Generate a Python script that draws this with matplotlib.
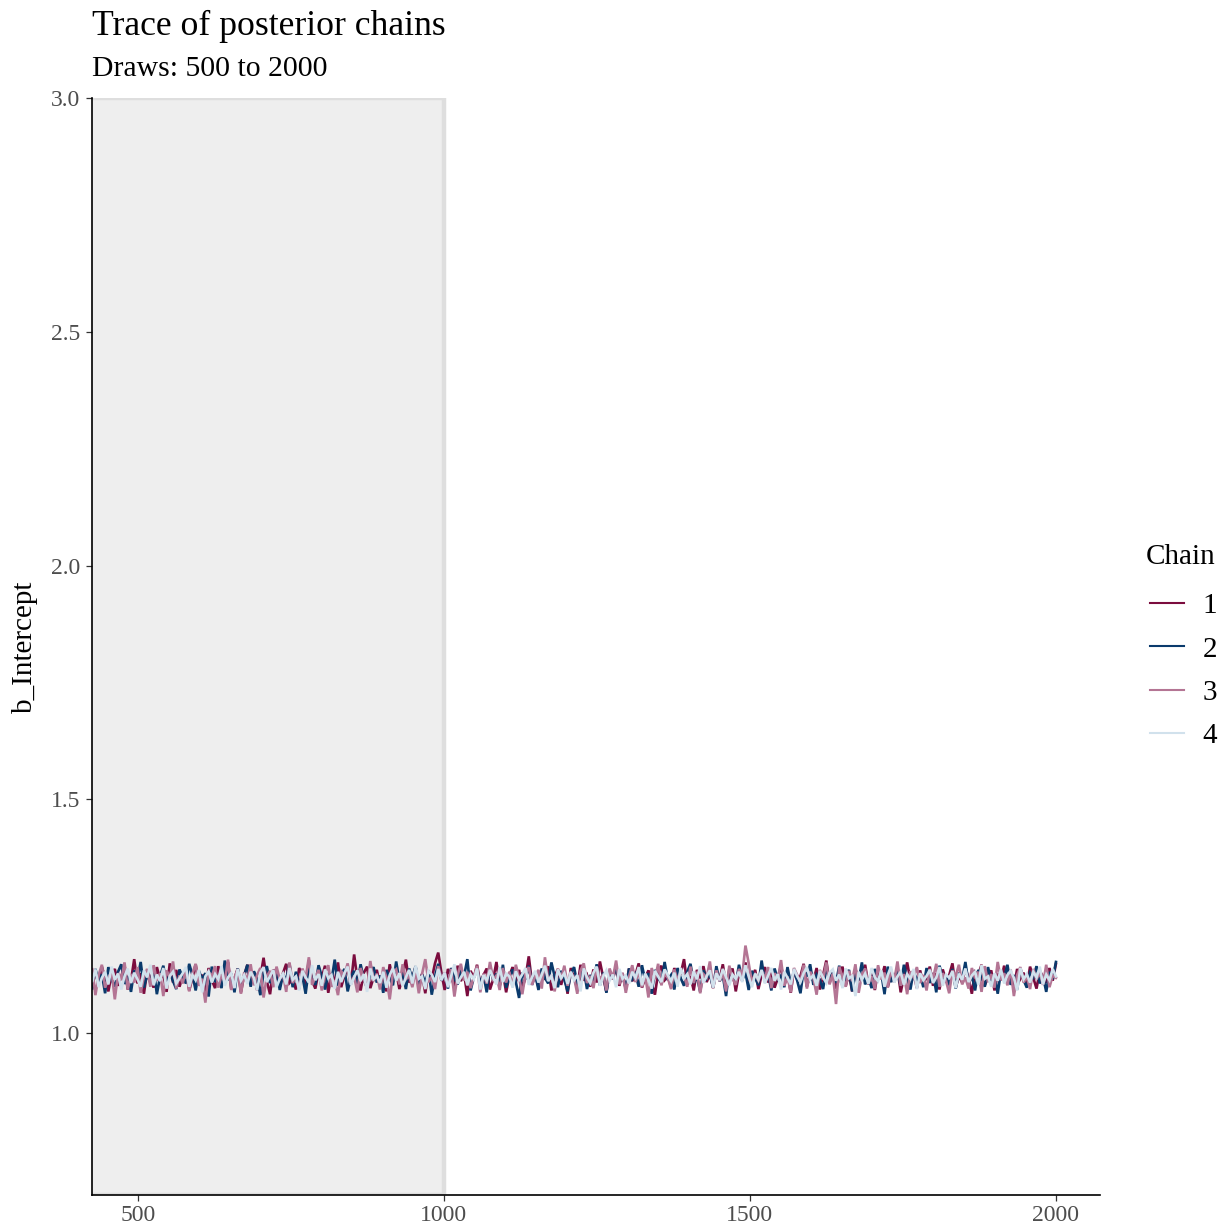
import numpy as np
import matplotlib
matplotlib.use("Agg")
import matplotlib.pyplot as plt
from matplotlib.lines import Line2D

plt.rcParams['font.family'] = ['Liberation Serif', 'DejaVu Serif']

# ---------------- data ----------------
chains = ["1", "2", "3", "4"]
first_draw = 420
last_draw = 2000
warmup_end = 1000
x_ticks = [500, 1000, 1500, 2000]
y_ticks = [1.0, 1.5, 2.0, 2.5, 3.0]

chain1 = [
    1.152, 1.098, 1.131, 1.104, 1.142, 1.117, 1.089, 1.126, 1.137, 1.101,
    1.121, 1.145, 1.093, 1.112, 1.158, 1.106, 1.128, 1.084, 1.133, 1.119,
    1.097, 1.141, 1.115, 1.126, 1.088, 1.149, 1.108, 1.135, 1.099, 1.122,
    1.134, 1.091, 1.118, 1.147, 1.103, 1.125, 1.079, 1.139, 1.113, 1.096,
    1.143, 1.109, 1.127, 1.152, 1.094, 1.116, 1.138, 1.087, 1.124, 1.146,
    1.105, 1.131, 1.092, 1.119, 1.161, 1.111, 1.083, 1.136, 1.121, 1.099,
    1.128, 1.148, 1.107, 1.115, 1.093, 1.139, 1.124, 1.101, 1.156, 1.112,
    1.095, 1.132, 1.118, 1.144, 1.086, 1.127, 1.109, 1.151, 1.098, 1.123,
    1.137, 1.104, 1.168, 1.115, 1.091, 1.129, 1.142, 1.096, 1.118, 1.135,
    1.102, 1.125, 1.089, 1.147, 1.113, 1.131, 1.094, 1.122, 1.157, 1.108,
    1.119, 1.141, 1.097, 1.126, 1.085, 1.134, 1.116, 1.149, 1.172, 1.128,
    1.092, 1.137, 1.121, 1.099, 1.144, 1.111, 1.127, 1.079, 1.133, 1.118,
    1.146, 1.105, 1.124, 1.138, 1.093, 1.115, 1.152, 1.101, 1.129, 1.087,
    1.123, 1.141, 1.109, 1.135, 1.096, 1.119, 1.164, 1.107, 1.126, 1.098,
    1.132, 1.114, 1.143, 1.091, 1.121, 1.137, 1.103, 1.128, 1.084, 1.139,
    1.117, 1.095, 1.146, 1.112, 1.124, 1.099, 1.136, 1.108, 1.153, 1.119,
    1.088, 1.131, 1.115, 1.142, 1.101, 1.127, 1.093, 1.138, 1.111, 1.125,
    1.149, 1.097, 1.118, 1.134, 1.106, 1.082, 1.129, 1.144, 1.113, 1.121,
    1.098, 1.139, 1.116, 1.127, 1.158, 1.104, 1.122, 1.091, 1.135, 1.117,
    1.143, 1.109, 1.126, 1.096, 1.131, 1.114, 1.147, 1.102, 1.123, 1.138,
    1.089, 1.128, 1.112, 1.151, 1.106, 1.119, 1.135, 1.094, 1.124, 1.141,
    1.108, 1.132, 1.097, 1.117, 1.145, 1.103, 1.129, 1.086, 1.136, 1.115,
    1.122, 1.148, 1.099, 1.127, 1.111, 1.139, 1.093, 1.124, 1.155, 1.107,
    1.131, 1.095, 1.118, 1.142, 1.101, 1.126, 1.089, 1.137, 1.114, 1.121,
    1.146, 1.104, 1.129, 1.092, 1.133, 1.116, 1.143, 1.098, 1.125, 1.109,
    1.138, 1.087, 1.121, 1.151, 1.112, 1.127, 1.096, 1.134, 1.105, 1.119,
    1.142, 1.101, 1.128, 1.093, 1.136, 1.113, 1.124, 1.149, 1.097, 1.122,
    1.108, 1.139, 1.117, 1.084, 1.131, 1.125, 1.146, 1.102, 1.119, 1.134,
    1.091, 1.127, 1.113, 1.144, 1.106, 1.123, 1.098, 1.137, 1.116, 1.129,
    1.101, 1.142, 1.118, 1.095, 1.133, 1.121, 1.107, 1.139, 1.112, 1.148,
]

chain2 = [
    1.118, 1.093, 1.137, 1.109, 1.126, 1.085, 1.141, 1.114, 1.099, 1.131,
    1.147, 1.105, 1.122, 1.088, 1.134, 1.116, 1.152, 1.097, 1.125, 1.108,
    1.139, 1.083, 1.121, 1.144, 1.102, 1.129, 1.111, 1.094, 1.136, 1.119,
    1.106, 1.148, 1.124, 1.091, 1.133, 1.115, 1.128, 1.078, 1.142, 1.109,
    1.121, 1.096, 1.155, 1.113, 1.127, 1.087, 1.138, 1.104, 1.123, 1.146,
    1.099, 1.132, 1.117, 1.081, 1.129, 1.143, 1.107, 1.119, 1.136, 1.092,
    1.125, 1.114, 1.149, 1.098, 1.131, 1.106, 1.122, 1.084, 1.139, 1.116,
    1.103, 1.145, 1.121, 1.093, 1.128, 1.112, 1.157, 1.101, 1.124, 1.137,
    1.089, 1.119, 1.133, 1.105, 1.147, 1.115, 1.096, 1.127, 1.141, 1.108,
    1.123, 1.086, 1.135, 1.118, 1.102, 1.153, 1.111, 1.129, 1.094, 1.138,
    1.117, 1.143, 1.099, 1.126, 1.107, 1.134, 1.082, 1.121, 1.148, 1.112,
    1.128, 1.095, 1.139, 1.116, 1.104, 1.131, 1.122, 1.158, 1.091, 1.119,
    1.135, 1.108, 1.124, 1.087, 1.142, 1.113, 1.127, 1.101, 1.146, 1.097,
    1.121, 1.136, 1.109, 1.075, 1.129, 1.115, 1.144, 1.103, 1.125, 1.092,
    1.138, 1.118, 1.106, 1.151, 1.121, 1.098, 1.133, 1.114, 1.089, 1.127,
    1.141, 1.105, 1.119, 1.136, 1.094, 1.124, 1.111, 1.147, 1.102, 1.129,
    1.086, 1.132, 1.117, 1.143, 1.108, 1.122, 1.096, 1.138, 1.115, 1.126,
    1.099, 1.145, 1.112, 1.128, 1.084, 1.135, 1.119, 1.106, 1.152, 1.113,
    1.124, 1.093, 1.139, 1.117, 1.101, 1.131, 1.148, 1.107, 1.121, 1.088,
    1.134, 1.116, 1.126, 1.097, 1.143, 1.111, 1.123, 1.079, 1.137, 1.119,
    1.105, 1.146, 1.114, 1.129, 1.092, 1.133, 1.118, 1.102, 1.155, 1.109,
    1.127, 1.091, 1.138, 1.115, 1.123, 1.098, 1.141, 1.106, 1.131, 1.112,
    1.085, 1.136, 1.121, 1.147, 1.103, 1.125, 1.114, 1.094, 1.139, 1.117,
    1.129, 1.107, 1.144, 1.099, 1.122, 1.135, 1.089, 1.127, 1.113, 1.151,
    1.104, 1.119, 1.096, 1.137, 1.115, 1.128, 1.083, 1.142, 1.109, 1.124,
    1.131, 1.101, 1.146, 1.118, 1.093, 1.133, 1.112, 1.125, 1.098, 1.139,
    1.107, 1.128, 1.087, 1.144, 1.116, 1.121, 1.102, 1.137, 1.095, 1.129,
    1.114, 1.152, 1.105, 1.123, 1.091, 1.135, 1.118, 1.099, 1.141, 1.111,
    1.126, 1.084, 1.132, 1.117, 1.146, 1.103, 1.124, 1.093, 1.138, 1.113,
    1.097, 1.129, 1.119, 1.143, 1.106, 1.122, 1.088, 1.131, 1.115, 1.152,
]

chain3 = [
    1.103, 1.139, 1.081, 1.124, 1.146, 1.097, 1.117, 1.132, 1.072, 1.128,
    1.114, 1.151, 1.093, 1.126, 1.108, 1.141, 1.086, 1.121, 1.137, 1.099,
    1.145, 1.112, 1.128, 1.079, 1.134, 1.119, 1.153, 1.095, 1.123, 1.106,
    1.138, 1.089, 1.127, 1.148, 1.101, 1.116, 1.065, 1.131, 1.121, 1.143,
    1.097, 1.125, 1.109, 1.157, 1.092, 1.118, 1.136, 1.084, 1.129, 1.113,
    1.147, 1.102, 1.124, 1.139, 1.076, 1.121, 1.133, 1.098, 1.142, 1.115,
    1.126, 1.088, 1.151, 1.107, 1.122, 1.094, 1.138, 1.117, 1.162, 1.103,
    1.119, 1.135, 1.091, 1.128, 1.145, 1.099, 1.113, 1.081, 1.132, 1.124,
    1.149, 1.106, 1.121, 1.087, 1.139, 1.115, 1.096, 1.154, 1.111, 1.127,
    1.093, 1.141, 1.118, 1.072, 1.129, 1.136, 1.104, 1.147, 1.115, 1.122,
    1.098, 1.133, 1.085, 1.126, 1.158, 1.109, 1.121, 1.094, 1.143, 1.117,
    1.129, 1.101, 1.137, 1.078, 1.124, 1.148, 1.112, 1.131, 1.096, 1.119,
    1.144, 1.087, 1.127, 1.106, 1.152, 1.115, 1.123, 1.092, 1.139, 1.108,
    1.131, 1.099, 1.146, 1.118, 1.083, 1.127, 1.141, 1.103, 1.121, 1.135,
    1.095, 1.162, 1.112, 1.124, 1.089, 1.137, 1.116, 1.144, 1.101, 1.128,
    1.119, 1.084, 1.133, 1.149, 1.107, 1.122, 1.096, 1.141, 1.113, 1.126,
    1.091, 1.138, 1.117, 1.155, 1.104, 1.129, 1.086, 1.121, 1.145, 1.109,
    1.132, 1.098, 1.124, 1.076, 1.139, 1.115, 1.148, 1.102, 1.127, 1.118,
    1.094, 1.136, 1.112, 1.133, 1.123, 1.099, 1.142, 1.107, 1.131, 1.085,
    1.126, 1.119, 1.153, 1.097, 1.134, 1.111, 1.128, 1.089, 1.144, 1.116,
    1.103, 1.137, 1.122, 1.187, 1.149, 1.108, 1.125, 1.112, 1.133, 1.117,
    1.141, 1.096, 1.128, 1.113, 1.156, 1.101, 1.121, 1.087, 1.139, 1.124,
    1.109, 1.146, 1.095, 1.131, 1.118, 1.082, 1.135, 1.114, 1.151, 1.104,
    1.127, 1.062, 1.142, 1.119, 1.099, 1.133, 1.111, 1.147, 1.086, 1.124,
    1.138, 1.106, 1.121, 1.094, 1.145, 1.115, 1.129, 1.098, 1.136, 1.112,
    1.153, 1.101, 1.126, 1.083, 1.132, 1.119, 1.141, 1.107, 1.124, 1.091,
    1.137, 1.116, 1.148, 1.099, 1.128, 1.112, 1.085, 1.134, 1.122, 1.146,
    1.104, 1.119, 1.095, 1.139, 1.117, 1.131, 1.088, 1.143, 1.109, 1.126,
    1.097, 1.152, 1.113, 1.128, 1.102, 1.136, 1.079, 1.124, 1.141, 1.108,
    1.121, 1.094, 1.137, 1.115, 1.129, 1.103, 1.146, 1.098, 1.123, 1.118,
]

chain4 = [
    1.124, 1.109, 1.136, 1.098, 1.118, 1.131, 1.104, 1.142, 1.114, 1.127,
    1.093, 1.121, 1.138, 1.107, 1.129, 1.115, 1.099, 1.134, 1.119, 1.146,
    1.102, 1.125, 1.111, 1.139, 1.095, 1.122, 1.131, 1.106, 1.117, 1.128,
    1.141, 1.099, 1.124, 1.113, 1.135, 1.087, 1.121, 1.132, 1.108, 1.126,
    1.115, 1.143, 1.101, 1.119, 1.128, 1.096, 1.137, 1.112, 1.124, 1.105,
    1.131, 1.118, 1.092, 1.129, 1.141, 1.109, 1.122, 1.135, 1.098, 1.116,
    1.127, 1.104, 1.139, 1.114, 1.121, 1.091, 1.133, 1.119, 1.108, 1.145,
    1.113, 1.126, 1.101, 1.136, 1.117, 1.124, 1.095, 1.131, 1.109, 1.128,
    1.142, 1.103, 1.119, 1.134, 1.111, 1.126, 1.088, 1.138, 1.115, 1.122,
    1.107, 1.131, 1.097, 1.124, 1.139, 1.112, 1.128, 1.101, 1.119, 1.135,
    1.106, 1.143, 1.116, 1.121, 1.094, 1.133, 1.125, 1.109, 1.137, 1.113,
    1.129, 1.098, 1.122, 1.147, 1.106, 1.119, 1.131, 1.102, 1.126, 1.115,
    1.138, 1.093, 1.124, 1.112, 1.135, 1.118, 1.104, 1.141, 1.109, 1.127,
    1.121, 1.097, 1.132, 1.114, 1.126, 1.139, 1.103, 1.119, 1.133, 1.108,
    1.125, 1.144, 1.111, 1.122, 1.096, 1.136, 1.117, 1.128, 1.105, 1.131,
    1.113, 1.124, 1.089, 1.138, 1.119, 1.107, 1.129, 1.142, 1.101, 1.121,
    1.134, 1.112, 1.125, 1.098, 1.137, 1.116, 1.123, 1.106, 1.131, 1.118,
    1.141, 1.102, 1.127, 1.114, 1.095, 1.133, 1.121, 1.109, 1.136, 1.124,
    1.111, 1.129, 1.099, 1.139, 1.117, 1.126, 1.104, 1.132, 1.115, 1.143,
    1.107, 1.122, 1.134, 1.097, 1.128, 1.113, 1.137, 1.119, 1.102, 1.125,
    1.116, 1.131, 1.109, 1.145, 1.121, 1.098, 1.127, 1.114, 1.135, 1.106,
    1.123, 1.139, 1.112, 1.126, 1.093, 1.131, 1.118, 1.104, 1.137, 1.121,
    1.109, 1.128, 1.141, 1.115, 1.124, 1.101, 1.133, 1.119, 1.107, 1.129,
    1.136, 1.112, 1.125, 1.096, 1.138, 1.117, 1.122, 1.079, 1.131, 1.114,
    1.127, 1.105, 1.139, 1.119, 1.111, 1.134, 1.099, 1.124, 1.142, 1.108,
    1.121, 1.131, 1.103, 1.126, 1.116, 1.137, 1.094, 1.128, 1.113, 1.122,
    1.135, 1.107, 1.119, 1.141, 1.101, 1.125, 1.118, 1.132, 1.096, 1.127,
    1.114, 1.138, 1.109, 1.123, 1.131, 1.103, 1.145, 1.116, 1.121, 1.099,
    1.128, 1.112, 1.136, 1.106, 1.124, 1.133, 1.118, 1.091, 1.139, 1.115,
    1.126, 1.108, 1.131, 1.119, 1.142, 1.104, 1.125, 1.113, 1.137, 1.121,
]

chain_values = [chain1, chain2, chain3, chain4]
chain_colors = ["#7b0c3e", "#0a3a6c", "#b47594", "#d1e1ec"]

# ---------------- figure ----------------
W, H = 1225, 1231
fig = plt.figure(figsize=(W / 100, H / 100), dpi=100)
left, right, top, bottom = 92, 1100, 98, 1195
ax = fig.add_axes([left / W, 1 - bottom / H, (right - left) / W, (bottom - top) / H])

# warmup highlight
ax.axvspan(0, warmup_end, facecolor="#eeeeee", edgecolor="#dedede",
           linewidth=3.2, zorder=0)

for name, vals, col in zip(chains, chain_values, chain_colors):
    xs = np.linspace(first_draw, last_draw, len(vals))
    ax.plot(xs, vals, color=col, linewidth=1.9, zorder=2, solid_joinstyle="miter")

ax.set_xlim(425, 2072)
ax.set_ylim(0.6535, 3.0)
ax.set_xticks(x_ticks)
ax.set_xticklabels([str(t) for t in x_ticks])
ax.set_yticks(y_ticks)
ax.set_yticklabels([f"{t:.1f}" for t in y_ticks])

for s in ["top", "right"]:
    ax.spines[s].set_visible(False)
for s in ["left", "bottom"]:
    ax.spines[s].set_linewidth(1.2)
    ax.spines[s].set_color("black")

ax.tick_params(axis="both", length=4.5, width=0.9, color="#333333",
               labelsize=17, labelcolor="#4d4d4d", pad=3)
ax.tick_params(axis="y", pad=4)
ax.set_ylabel("b_Intercept", fontsize=21, color="black", labelpad=9)

fig.text(left / W, 1 - 35 / H, "Trace of posterior chains", fontsize=25.7,
         ha="left", va="baseline")
fig.text(left / W, 1 - 76 / H, "Draws: 500 to 2000", fontsize=21.4,
         ha="left", va="baseline")

# legend: title as text, entries as a legend
fig.text(1146 / W, 1 - 564 / H, "Chain", fontsize=21, ha="left", va="baseline")
handles = [Line2D([0], [0], color=c, linewidth=1.5) for c in chain_colors]
leg = fig.legend(handles, chains, loc="center left",
                 bbox_to_anchor=(1150 / W, 1 - 671 / H), frameon=False,
                 fontsize=21, handlelength=1.15,
                 handletextpad=0.65, labelspacing=0.58,
                 borderpad=0.0, borderaxespad=0.0)

fig.savefig("out.png", dpi=100, facecolor="white")
